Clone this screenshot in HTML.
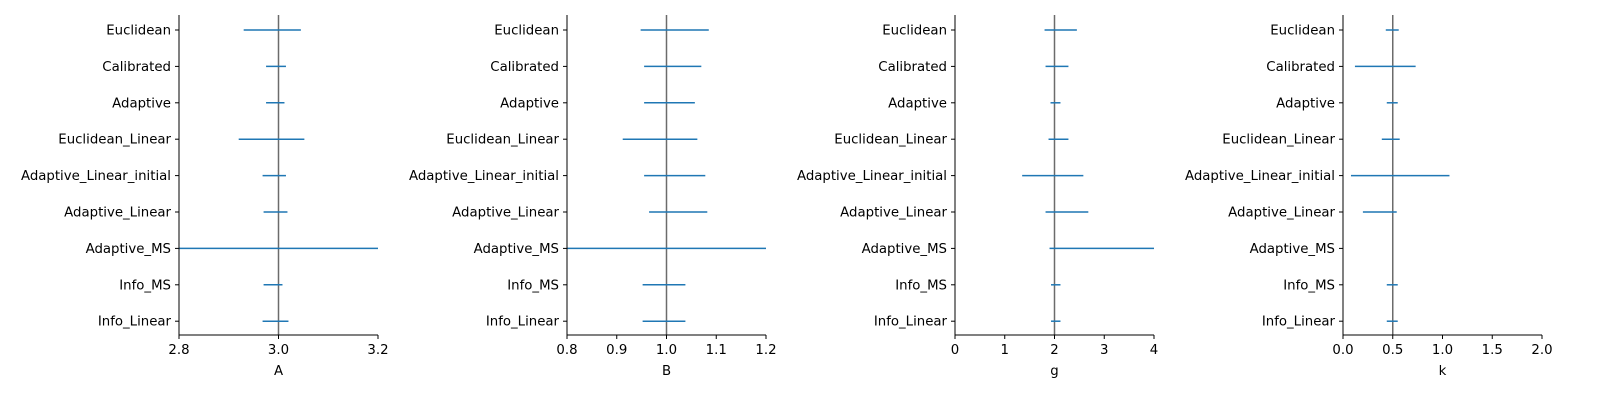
<!DOCTYPE html>
<html><head><meta charset="utf-8">
<style>
body{margin:0;background:#fff;}
svg{display:block;font-family:"DejaVu Sans","Liberation Sans",sans-serif;}
</style></head>
<body>
<svg id="chart" width="1600" height="400" viewBox="0 0 1600 400"></svg>
<script>
const categories = ["Euclidean","Calibrated","Adaptive","Euclidean_Linear","Adaptive_Linear_initial","Adaptive_Linear","Adaptive_MS","Info_MS","Info_Linear"];
const panelNames = ["A","B","g","k"];
const trueValues = [3.0, 1.0, 2.0, 0.5];
const xDomains = [[2.8,3.2],[0.8,1.2],[0,4],[0,2]];
const xTicks = [[2.8,3.0,3.2],[0.8,0.9,1.0,1.1,1.2],[0,1,2,3,4],[0,0.5,1.0,1.5,2.0]];
const tickLabels = [["2.8","3.0","3.2"],["0.8","0.9","1.0","1.1","1.2"],["0","1","2","3","4"],["0.0","0.5","1.0","1.5","2.0"]];
const lowA = [2.93,2.975,2.975,2.92,2.968,2.97,2.7,2.97,2.968];
const highA = [3.045,3.015,3.012,3.052,3.015,3.018,3.3,3.008,3.02];
const lowB = [0.948,0.955,0.955,0.912,0.955,0.965,0.7,0.952,0.952];
const highB = [1.085,1.07,1.057,1.062,1.078,1.082,1.3,1.038,1.038];
const lowG = [1.8,1.82,1.92,1.88,1.35,1.82,1.9,1.93,1.93];
const highG = [2.45,2.28,2.12,2.28,2.58,2.68,4.2,2.12,2.12];
const lowK = [0.43,0.12,0.44,0.39,0.08,0.2,0.5,0.44,0.44];
const highK = [0.56,0.73,0.55,0.57,1.07,0.54,0.5,0.55,0.55];
const lows = [lowA,lowB,lowG,lowK];
const highs = [highA,highB,highG,highK];

const NS="http://www.w3.org/2000/svg";
const svg=document.getElementById('chart');
const axLeft=[179,567,955,1343], axW=199, axTop=15, axBot=335;
const rowY0=30, rowStep=36.4;
function mk(t,a,p){const e=document.createElementNS(NS,t);for(const k in a)e.setAttribute(k,a[k]);(p||svg).appendChild(e);return e;}
function yPos(i){return rowY0+i*rowStep;}
for(let p=0;p<4;p++){
  const g=mk('g',{});
  
  
  const d=xDomains[p];
  const x=v=>axLeft[p]+(v-d[0])/(d[1]-d[0])*axW;
  const cp=mk('clipPath',{id:'cp'+p},g);
  mk('rect',{x:axLeft[p],y:axTop,width:axW,height:axBot-axTop},cp);
  const tl=mk('line',{x1:x(trueValues[p]),x2:x(trueValues[p]),y1:axTop,y2:axBot,stroke:'#6b6b6b','stroke-width':1.5},g);
  
  
  const cg=mk('g',{'clip-path':'url(#cp'+p+')'},g);
  for(let i=0;i<categories.length;i++){
    const l=mk('line',{x1:x(lows[p][i]),x2:x(highs[p][i]),y1:yPos(i),y2:yPos(i),stroke:'#1f77b4','stroke-width':1.5},cg);
    
    
  }
  mk('line',{x1:axLeft[p],x2:axLeft[p],y1:axTop,y2:axBot+0.5,stroke:'#000','stroke-width':1},g);
  mk('line',{x1:axLeft[p]-0.5,x2:axLeft[p]+axW,y1:axBot,y2:axBot,stroke:'#000','stroke-width':1},g);
  for(let i=0;i<categories.length;i++){
    mk('line',{x1:axLeft[p]-4,x2:axLeft[p],y1:yPos(i),y2:yPos(i),stroke:'#000'},g);
    const t=mk('text',{x:axLeft[p]-8,y:yPos(i)+4.5,'text-anchor':'end','font-size':13.3},g);
    t.textContent=categories[i];
    
    
  }
  for(let j=0;j<xTicks[p].length;j++){
    const xv=x(xTicks[p][j]);
    mk('line',{x1:xv,x2:xv,y1:axBot,y2:axBot+4,stroke:'#000'},g);
    const t=mk('text',{x:xv,y:axBot+19,'text-anchor':'middle','font-size':13.3},g);
    t.textContent=tickLabels[p][j];
    
    
  }
  const at=mk('text',{x:axLeft[p]+axW/2,y:axBot+40,'text-anchor':'middle','font-size':13.3},g);
  at.textContent=panelNames[p];
  
  
}
</script>
</body></html>
